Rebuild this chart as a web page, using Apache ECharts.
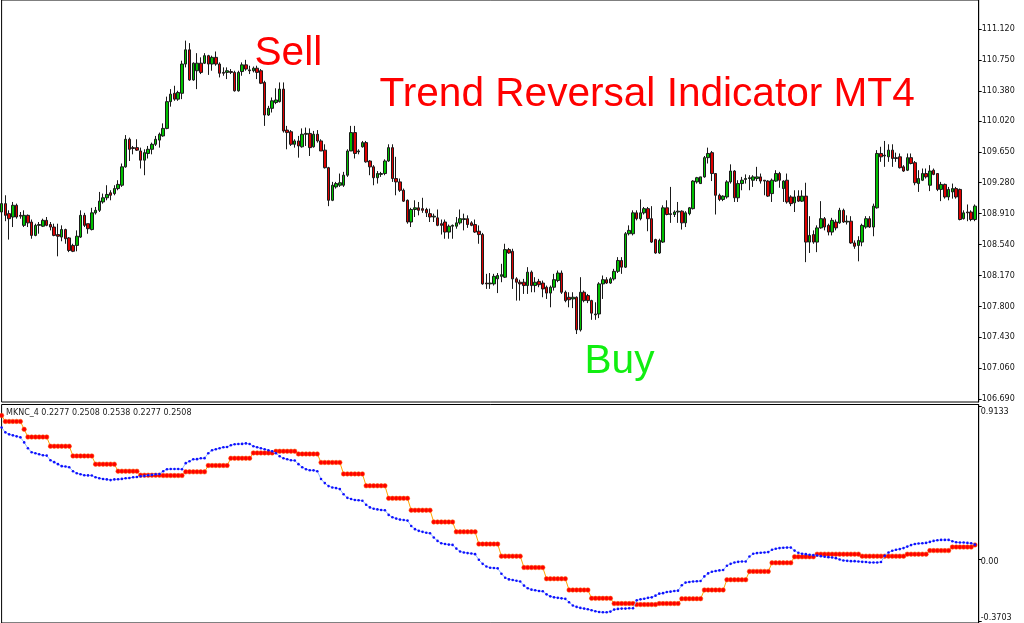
<!DOCTYPE html>
<html><head><meta charset="utf-8">
<script src="https://cdn.jsdelivr.net/npm/echarts@6/dist/echarts.min.js"></script>
<style>html,body{margin:0;padding:0;background:#fff;overflow:hidden}#c{width:1024px;height:623px}</style>
</head><body><div id="c"></div>
<script>
// ---- data ----
const opens = [108.93,109.03,108.91,108.87,109.01,108.89,108.77,108.89,108.81,108.65,
108.77,108.76,108.83,108.78,108.75,108.66,108.63,108.72,108.62,108.53,
108.53,108.63,108.89,108.79,108.72,108.92,108.95,109.05,109.10,109.16,
109.15,109.21,109.25,109.47,109.80,109.70,109.70,109.66,109.55,109.63,
109.68,109.74,109.79,109.84,109.93,110.25,110.35,110.28,110.35,110.70,
110.87,110.51,110.62,110.71,110.71,110.80,110.70,110.78,110.70,110.60,
110.60,110.61,110.60,110.38,110.61,110.69,110.63,110.62,110.65,110.62,
110.48,110.09,110.17,110.24,110.25,110.40,109.91,109.89,109.74,109.78,
109.71,109.86,109.87,109.71,109.86,109.78,109.67,109.46,109.07,109.23,
109.25,109.25,109.37,109.66,109.88,109.65,109.71,109.76,109.54,109.47,
109.34,109.38,109.39,109.54,109.70,109.33,109.29,109.19,109.07,108.81,
108.96,108.98,108.97,108.96,108.91,108.87,108.86,108.79,108.81,108.69,
108.76,108.76,108.80,108.84,108.85,108.80,108.78,108.70,108.66,108.08,
108.07,108.07,108.13,108.16,108.15,108.48,108.46,108.13,108.09,108.09,
108.05,108.21,108.05,108.10,108.08,108.03,107.96,108.03,108.11,108.20,
107.97,107.91,107.89,107.91,107.52,107.97,107.93,107.87,107.70,107.71,
108.07,108.12,108.08,108.13,108.22,108.35,108.27,108.67,108.67,108.92,
108.85,108.92,108.97,108.85,108.60,108.44,108.57,108.98,108.91,108.90,
108.93,108.94,108.80,108.91,108.97,109.29,109.27,109.35,109.58,109.64,
109.39,109.13,109.08,109.11,109.29,109.42,109.10,109.27,109.32,109.33,
109.31,109.33,109.35,109.31,109.30,109.15,109.30,109.39,109.21,109.31,
109.11,109.04,109.12,109.06,109.12,108.57,108.66,108.57,108.74,108.85,
108.77,108.69,108.81,108.80,108.95,108.81,108.82,108.56,108.53,108.57,
108.75,108.85,108.75,108.98,109.63,109.60,109.59,109.67,109.58,109.59,
109.47,109.43,109.58,109.52,109.27,109.31,109.39,109.25,109.43,109.39,
109.20,109.26,109.11,109.17,109.21,109.20,108.85,108.93,108.93,108.84];

const closes = [109.03,108.89,108.85,109.01,108.87,108.88,108.89,108.80,108.65,108.77,
108.78,108.83,108.77,108.75,108.65,108.64,108.72,108.61,108.47,108.46,
108.64,108.89,108.77,108.73,108.92,108.95,109.06,109.10,109.14,109.13,
109.21,109.26,109.47,109.80,109.68,109.69,109.67,109.55,109.64,109.68,
109.74,109.80,109.86,109.93,110.25,110.34,110.28,110.36,110.70,110.87,
110.51,110.71,110.71,110.60,110.80,110.70,110.78,110.70,110.59,110.59,
110.62,110.60,110.38,110.60,110.69,110.64,110.62,110.65,110.60,110.47,
110.09,110.17,110.26,110.27,110.40,109.90,109.88,109.74,109.78,109.72,
109.86,109.87,109.70,109.86,109.78,109.66,109.46,109.07,109.25,109.27,
109.28,109.37,109.66,109.88,109.63,109.66,109.76,109.53,109.47,109.34,
109.39,109.39,109.54,109.70,109.33,109.29,109.19,109.06,108.81,108.96,
108.98,108.95,108.95,108.92,108.87,108.88,108.77,108.77,108.69,108.76,
108.77,108.80,108.85,108.85,108.78,108.77,108.69,108.66,108.07,108.07,
108.08,108.16,108.17,108.18,108.48,108.44,108.13,108.09,108.07,108.05,
108.21,108.05,108.09,108.06,108.01,107.96,108.03,108.12,108.20,107.97,
107.87,107.88,107.91,107.52,107.97,107.87,107.87,107.72,107.71,108.07,
108.12,108.08,108.13,108.22,108.35,108.27,108.67,108.71,108.92,108.85,
108.92,108.97,108.85,108.57,108.44,108.59,108.98,108.90,108.90,108.93,
108.94,108.80,108.92,108.98,109.30,109.34,109.35,109.58,109.63,109.39,
109.13,109.08,109.12,109.29,109.42,109.10,109.27,109.31,109.33,109.34,
109.35,109.35,109.30,109.30,109.12,109.31,109.39,109.31,109.30,109.05,
109.03,109.11,109.06,109.12,108.57,108.65,108.57,108.74,108.85,108.75,
108.69,108.83,108.74,108.95,108.81,108.82,108.56,108.52,108.59,108.77,
108.85,108.75,109.00,109.63,109.59,109.61,109.67,109.57,109.57,109.46,
109.42,109.58,109.51,109.28,109.33,109.39,109.35,109.42,109.38,109.20,
109.26,109.11,109.20,109.21,109.11,108.84,108.92,108.92,108.84,109.00];

const lows = [108.85,108.82,108.60,108.75,108.85,108.85,108.75,108.75,108.61,108.64,
108.67,108.75,108.76,108.71,108.64,108.40,108.58,108.55,108.45,108.45,
108.46,108.62,108.75,108.67,108.71,108.90,108.93,109.03,109.07,109.07,
109.13,109.19,109.23,109.46,109.54,109.62,109.66,109.45,109.37,109.57,
109.62,109.72,109.70,109.83,109.92,110.19,110.26,110.26,110.28,110.66,
110.50,110.50,110.40,110.58,110.70,110.57,110.62,110.68,110.54,110.56,
110.52,110.58,110.37,110.37,110.56,110.62,110.58,110.60,110.52,110.46,
109.96,110.08,110.12,110.22,110.24,109.88,109.68,109.72,109.70,109.58,
109.70,109.72,109.60,109.70,109.76,109.66,109.45,109.00,109.06,109.21,
109.23,109.23,109.35,109.66,109.57,109.62,109.70,109.52,109.37,109.25,
109.27,109.35,109.37,109.53,109.29,109.13,109.17,109.05,108.79,108.75,
108.87,108.89,108.92,108.87,108.81,108.81,108.76,108.66,108.61,108.61,
108.61,108.73,108.78,108.71,108.74,108.76,108.68,108.55,108.06,108.01,
108.01,108.05,107.96,108.09,108.14,108.43,108.01,107.87,107.87,107.95,
107.95,107.97,107.97,108.03,107.91,107.89,107.79,107.99,108.09,107.95,
107.85,107.79,107.78,107.47,107.50,107.85,107.84,107.64,107.64,107.66,
107.89,108.07,108.07,108.11,108.20,108.19,108.26,108.65,108.65,108.83,
108.83,108.90,108.70,108.56,108.43,108.43,108.56,108.89,108.80,108.87,
108.80,108.72,108.75,108.89,108.96,109.27,109.27,109.34,109.51,109.30,
108.90,109.06,109.06,109.09,109.27,109.05,109.05,109.19,109.27,109.19,
109.23,109.30,109.27,109.13,109.11,109.05,109.29,109.22,109.05,109.03,
109.00,108.93,109.05,109.05,108.33,108.44,108.55,108.45,108.73,108.71,
108.65,108.65,108.71,108.79,108.80,108.78,108.55,108.49,108.34,108.52,
108.73,108.74,108.64,108.97,109.53,109.47,109.53,109.47,109.53,109.45,
109.41,109.42,109.50,109.25,109.17,109.30,109.33,109.18,109.37,109.18,
109.06,109.09,109.07,109.09,109.09,108.83,108.84,108.82,108.82,108.82];

const highs = [109.12,109.13,108.95,109.05,109.03,108.93,108.95,108.90,108.84,108.79,
108.81,108.85,108.87,108.81,108.79,108.79,108.77,108.73,108.63,108.55,
108.71,108.95,108.92,108.79,108.98,108.99,109.17,109.15,109.25,109.19,
109.25,109.31,109.51,109.85,109.82,109.72,109.80,109.70,109.68,109.72,
109.76,109.84,109.88,109.99,110.31,110.40,110.44,110.38,110.74,110.98,
110.95,110.72,110.83,110.78,110.83,110.81,110.80,110.85,110.72,110.66,
110.66,110.64,110.62,110.62,110.72,110.75,110.68,110.67,110.68,110.64,
110.50,110.20,110.30,110.41,110.48,110.48,109.96,109.91,109.80,109.84,
109.93,109.94,109.93,109.90,109.91,109.80,109.74,109.47,109.29,109.29,
109.39,109.41,109.68,109.96,109.96,109.68,109.78,109.78,109.55,109.49,
109.42,109.41,109.56,109.74,109.74,109.59,109.33,109.21,109.08,108.98,
109.07,109.05,109.10,108.98,108.97,108.91,108.96,108.84,108.84,108.78,
108.78,108.87,108.96,108.91,108.89,108.82,108.84,108.77,108.68,108.19,
108.20,108.19,108.20,108.31,108.55,108.50,108.49,108.15,108.12,108.13,
108.27,108.23,108.15,108.13,108.11,108.05,108.05,108.19,108.23,108.23,
107.99,107.97,107.97,107.92,108.15,107.99,107.95,107.88,107.85,108.09,
108.17,108.15,108.15,108.25,108.39,108.39,108.69,108.77,108.95,108.95,
109.08,108.99,108.99,109.00,108.61,108.61,109.01,109.07,109.23,108.95,
109.05,108.95,108.94,108.99,109.31,109.35,109.35,109.60,109.70,109.66,
109.39,109.15,109.13,109.31,109.50,109.43,109.31,109.35,109.38,109.37,
109.37,109.47,109.39,109.31,109.31,109.33,109.43,109.41,109.31,109.39,
109.13,109.19,109.19,109.19,109.28,108.88,108.71,108.77,109.06,108.87,
108.79,108.86,108.84,108.98,108.97,108.89,108.88,108.59,108.64,108.79,
108.88,108.88,109.03,109.67,109.71,109.78,109.74,109.74,109.64,109.63,
109.49,109.63,109.63,109.54,109.43,109.45,109.45,109.49,109.45,109.39,
109.29,109.27,109.23,109.27,109.23,109.21,108.95,109.02,108.95,109.02];

// indicator: red step line and blue dotted line
const redLine = [0.860,0.824,0.824,0.824,0.824,0.824,0.777,0.731,0.731,0.731,
0.731,0.731,0.731,0.676,0.676,0.676,0.676,0.676,0.676,0.618,
0.618,0.618,0.618,0.618,0.618,0.569,0.569,0.569,0.569,0.569,
0.569,0.527,0.527,0.527,0.527,0.527,0.527,0.503,0.503,0.503,
0.503,0.503,0.503,0.501,0.501,0.501,0.501,0.501,0.501,0.523,
0.523,0.523,0.523,0.523,0.523,0.561,0.561,0.561,0.561,0.561,
0.561,0.604,0.604,0.604,0.604,0.604,0.604,0.636,0.636,0.636,
0.636,0.636,0.636,0.646,0.646,0.646,0.646,0.646,0.646,0.630,
0.630,0.630,0.630,0.630,0.630,0.579,0.579,0.579,0.579,0.579,
0.579,0.511,0.511,0.511,0.511,0.511,0.511,0.440,0.440,0.440,
0.440,0.440,0.440,0.365,0.365,0.365,0.365,0.365,0.365,0.294,
0.294,0.294,0.294,0.294,0.294,0.224,0.224,0.224,0.224,0.224,
0.224,0.165,0.165,0.165,0.165,0.165,0.165,0.092,0.092,0.092,
0.092,0.092,0.092,0.020,0.020,0.020,0.020,0.020,0.020,-0.048,
-0.048,-0.048,-0.048,-0.048,-0.048,-0.115,-0.115,-0.115,-0.115,-0.115,
-0.115,-0.182,-0.182,-0.182,-0.182,-0.182,-0.182,-0.232,-0.232,-0.232,
-0.232,-0.232,-0.232,-0.263,-0.263,-0.263,-0.263,-0.263,-0.263,-0.269,
-0.269,-0.269,-0.269,-0.269,-0.269,-0.263,-0.263,-0.263,-0.263,-0.263,
-0.263,-0.234,-0.234,-0.234,-0.234,-0.234,-0.234,-0.182,-0.182,-0.182,
-0.182,-0.182,-0.182,-0.121,-0.121,-0.121,-0.121,-0.121,-0.121,-0.071,
-0.071,-0.071,-0.071,-0.071,-0.071,-0.020,-0.020,-0.020,-0.020,-0.020,
-0.020,0.016,0.016,0.016,0.016,0.016,0.016,0.032,0.032,0.032,
0.032,0.032,0.032,0.032,0.032,0.032,0.032,0.032,0.032,0.020,
0.020,0.020,0.020,0.020,0.020,0.020,0.020,0.020,0.020,0.020,
0.020,0.032,0.032,0.032,0.032,0.032,0.032,0.053,0.053,0.053,
0.053,0.053,0.053,0.074,0.074,0.074,0.074,0.074,0.074,0.087];

const blueLine = [0.788,0.759,0.747,0.741,0.735,0.729,0.699,0.664,0.640,0.634,
0.628,0.622,0.620,0.592,0.581,0.569,0.557,0.555,0.551,0.527,
0.515,0.509,0.503,0.502,0.501,0.491,0.485,0.480,0.478,0.474,
0.478,0.479,0.481,0.485,0.486,0.491,0.492,0.497,0.499,0.503,
0.505,0.509,0.510,0.527,0.539,0.540,0.540,0.540,0.539,0.575,
0.586,0.598,0.599,0.604,0.605,0.634,0.652,0.658,0.664,0.670,
0.671,0.682,0.688,0.689,0.690,0.693,0.689,0.676,0.670,0.664,
0.658,0.652,0.646,0.634,0.616,0.604,0.598,0.592,0.591,0.569,
0.551,0.539,0.533,0.532,0.527,0.480,0.456,0.438,0.430,0.426,
0.420,0.389,0.368,0.361,0.355,0.354,0.351,0.327,0.311,0.303,
0.299,0.295,0.294,0.266,0.252,0.244,0.238,0.236,0.232,0.200,
0.181,0.171,0.165,0.160,0.157,0.131,0.111,0.097,0.092,0.089,
0.087,0.065,0.048,0.042,0.038,0.036,0.032,-0.002,-0.026,-0.042,
-0.049,-0.051,-0.053,-0.085,-0.109,-0.119,-0.122,-0.127,-0.131,-0.156,
-0.172,-0.180,-0.184,-0.188,-0.190,-0.208,-0.220,-0.226,-0.229,-0.232,
-0.235,-0.255,-0.275,-0.283,-0.289,-0.293,-0.297,-0.303,-0.309,-0.313,
-0.315,-0.315,-0.311,-0.299,-0.295,-0.293,-0.293,-0.291,-0.291,-0.244,
-0.238,-0.234,-0.229,-0.226,-0.216,-0.204,-0.201,-0.194,-0.192,-0.188,
-0.186,-0.154,-0.138,-0.134,-0.131,-0.130,-0.128,-0.101,-0.083,-0.073,
-0.069,-0.065,-0.063,-0.037,-0.026,-0.018,-0.014,-0.012,-0.012,0.018,
0.034,0.038,0.040,0.042,0.044,0.058,0.064,0.068,0.070,0.071,
0.071,0.053,0.040,0.034,0.032,0.028,0.026,0.024,0.020,0.016,
0.014,0.012,0.008,0.000,-0.006,-0.008,-0.010,-0.010,-0.012,-0.014,
-0.015,-0.018,-0.018,-0.018,-0.015,0.022,0.042,0.052,0.058,0.062,
0.068,0.077,0.086,0.092,0.095,0.097,0.099,0.105,0.111,0.115,
0.117,0.117,0.117,0.109,0.103,0.101,0.101,0.099,0.097,0.089];

const priceTicks = [106.69,107.06,107.43,107.80,108.17,108.54,108.91,109.28,109.65,110.02,110.38,110.75,111.12];
const indTicks = [-0.3703, 0, 0.9133];
const indicatorLabel = 'MKNC_4 0.2277 0.2508 0.2538 0.2277 0.2508';
const annotations = [
  {text: 'Sell', color: '#ff0000'},
  {text: 'Trend Reversal Indicator MT4', color: '#ff0000'},
  {text: 'Buy', color: '#11ee11'}
];

// categories: one per bar plus one empty slot at the right margin
const categories = [];
for (let i = 0; i <= opens.length; i++) categories.push(String(i));

const candles = opens.map((o, i) => [o, closes[i], lows[i], highs[i]]);

const chart = echarts.init(document.getElementById('c'), null, {renderer: 'canvas'});
const lblFont = {fontFamily: 'DejaVu Sans', fontSize: 8, color: '#111'};
const bigFont = '40.6px "Liberation Sans", Arial, sans-serif';

const option = {
  animation: false,
  backgroundColor: '#ffffff',
  grid: [
    {left: 1.6, top: -1, width: 977.1, height: 403, show: true, borderColor: '#000', borderWidth: 1, backgroundColor: 'transparent'},
    {left: 1.6, top: 404.5, width: 977.1, height: 220, show: true, borderColor: '#000', borderWidth: 1, backgroundColor: 'transparent'}
  ],
  xAxis: [
    {type: 'category', gridIndex: 0, data: categories, boundaryGap: false,
     axisLine: {show: false}, axisTick: {show: false}, axisLabel: {show: false}, splitLine: {show: false}},
    {type: 'category', gridIndex: 1, data: categories, boundaryGap: false,
     axisLine: {show: false}, axisTick: {show: false}, axisLabel: {show: false}, splitLine: {show: false}}
  ],
  yAxis: [
    {type: 'value', gridIndex: 0, position: 'right', min: 106.657, max: 111.466,
     axisLine: {show: true, lineStyle: {color: '#000', width: 1}},
     axisTick: {show: true, length: 3, customValues: priceTicks, lineStyle: {color: '#000'}},
     axisLabel: Object.assign({customValues: priceTicks, margin: 3, formatter: v => v.toFixed(3)}, lblFont),
     splitLine: {show: false}},
    {type: 'value', gridIndex: 1, position: 'right', min: -0.3791, max: 0.9251,
     axisLine: {show: true, lineStyle: {color: '#000', width: 1}},
     axisTick: {show: true, length: 3, customValues: indTicks, lineStyle: {color: '#000'}},
     axisLabel: Object.assign({customValues: indTicks, margin: 2,
       formatter: v => v === 0 ? '{z|0.00}' : (v > 0 ? '{t|' + v.toFixed(4) + '}' : '{b|' + v.toFixed(4) + '}'),
       rich: {
         t: Object.assign({padding: [10, 0, 0, 0]}, lblFont),
         z: Object.assign({padding: [5, 0, 0, 0]}, lblFont),
         b: Object.assign({padding: [0, 0, 8, 0]}, lblFont)
       }}, lblFont),
     splitLine: {show: false}}
  ],
  series: [
    {type: 'candlestick', xAxisIndex: 0, yAxisIndex: 0, data: candles, barWidth: 3,
     itemStyle: {color: '#00c000', color0: '#dd0000', borderColor: '#1a1a1a', borderColor0: '#1a1a1a', borderWidth: 1}},
    {type: 'line', xAxisIndex: 1, yAxisIndex: 1, data: redLine, showSymbol: true, showAllSymbol: true,
     symbol: 'circle', symbolSize: 4.5, z: 3,
     itemStyle: {color: '#ff0000', borderColor: '#ff5a00', borderWidth: 0.5},
     lineStyle: {color: '#ffa500', width: 1}},
    {type: 'line', xAxisIndex: 1, yAxisIndex: 1, data: blueLine, showSymbol: true, showAllSymbol: true,
     symbol: 'circle', symbolSize: 2.6, z: 4,
     itemStyle: {color: '#1010ff', borderWidth: 0},
     lineStyle: {color: '#8fb8ff', width: 1}}
  ],
  graphic: [
    {type: 'text', left: 254.5, top: 33.5, z: 100, style: {text: annotations[0].text, fill: annotations[0].color, font: bigFont}},
    {type: 'text', left: 379.5, top: 74.5, z: 100, style: {text: annotations[1].text, fill: annotations[1].color, font: bigFont}},
    {type: 'text', left: 584.5, top: 341.5, z: 100, style: {text: annotations[2].text, fill: annotations[2].color, font: bigFont}},
    {type: 'text', left: 6, top: 408.5, z: 100, style: {text: indicatorLabel, fill: '#222', font: '8px "DejaVu Sans", sans-serif'}}
  ]
};
chart.setOption(option);
</script>
</body></html>
